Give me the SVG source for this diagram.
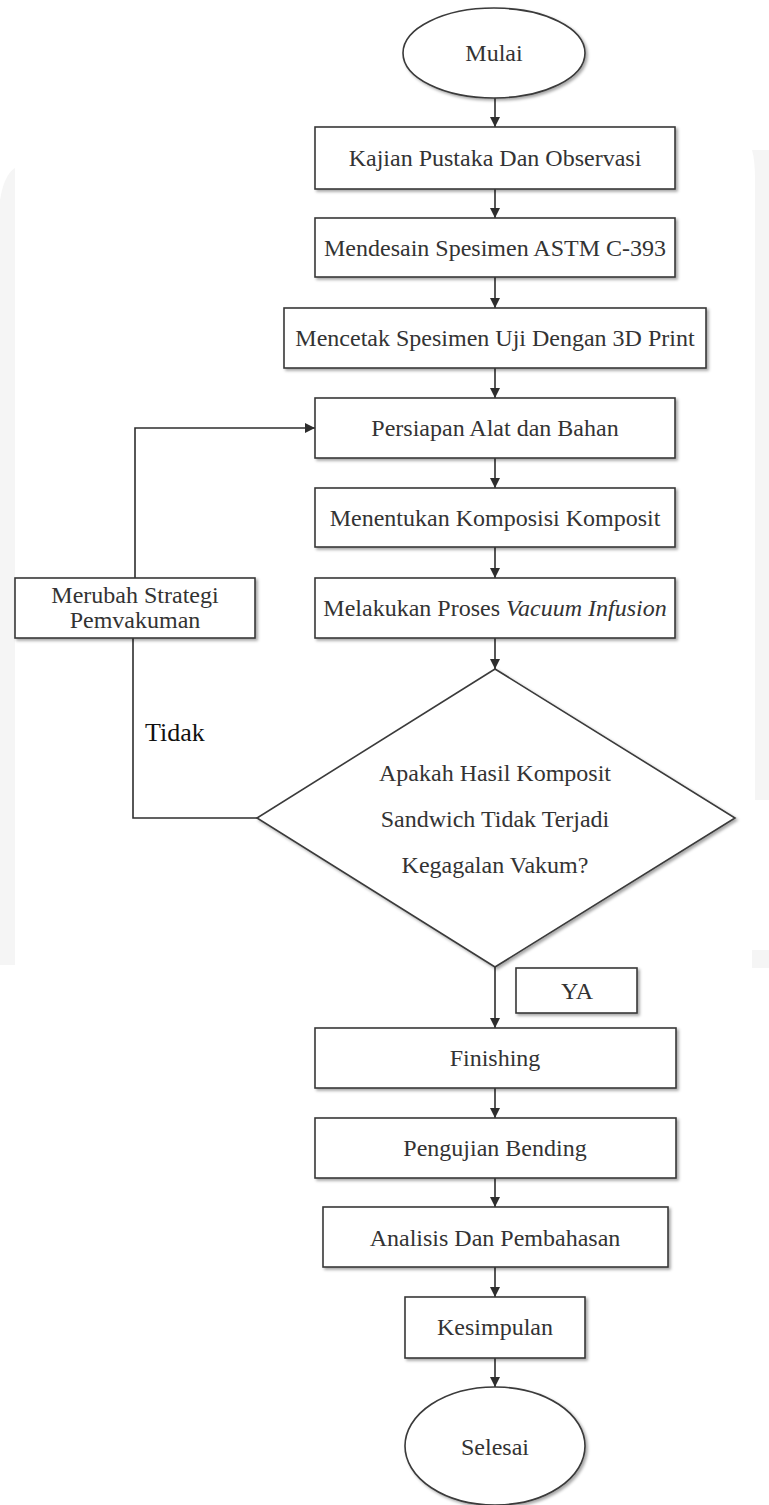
<svg xmlns="http://www.w3.org/2000/svg" width="769" height="1505" viewBox="0 0 769 1505">
<style>
.bg{fill:#f5f5f5;stroke:none}
.n{fill:#ffffff;stroke:#3a3a3a;stroke-width:1.6;filter:url(#sh)}
.t{font-family:'Liberation Serif','Times New Roman',Times,serif;font-size:24px;fill:#333333;text-anchor:middle}
.c{fill:none;stroke:#2e2e2e;stroke-width:1.6}
.a{marker-end:url(#ah)}
</style>
<defs>
<filter id="sh" x="-10%" y="-10%" width="125%" height="130%">
<feDropShadow dx="2" dy="2" stdDeviation="1.5" flood-color="#000000" flood-opacity="0.35"/>
</filter>
<marker id="ah" viewBox="0 0 10 10" refX="10" refY="5" markerWidth="10" markerHeight="10" markerUnits="userSpaceOnUse" orient="auto">
<path d="M0,0 L10,5 L0,10 Z" fill="#2e2e2e"/>
</marker>
</defs>
<rect width="769" height="1505" fill="#ffffff"/>
<g id="watermark">
<path class="bg" d="M0,200 Q4,175 15,168 L15,965 L0,965 Z"/>
<path class="bg" d="M769,150 L752,150 Q755,160 755,180 L755,800 L769,800 Z"/>
<path class="bg" d="M752,950 L769,950 L769,968 L752,968 Z"/>
</g>
<g id="connectors">
<line class="c a" x1="495" y1="98" x2="495" y2="127"/>
<line class="c a" x1="495" y1="189" x2="495" y2="218"/>
<line class="c a" x1="495" y1="277" x2="495" y2="308"/>
<line class="c a" x1="495" y1="368" x2="495" y2="398"/>
<line class="c a" x1="495" y1="458" x2="495" y2="488"/>
<line class="c a" x1="495" y1="547" x2="495" y2="578"/>
<line class="c a" x1="495" y1="638" x2="495" y2="669"/>
<line class="c a" x1="495" y1="967" x2="495" y2="1028"/>
<line class="c a" x1="495" y1="1088" x2="495" y2="1118"/>
<line class="c a" x1="495" y1="1178" x2="495" y2="1207"/>
<line class="c a" x1="495" y1="1267" x2="495" y2="1297"/>
<line class="c a" x1="495" y1="1358" x2="495" y2="1387"/>
<polyline class="c" points="257,818 133,818 133,638"/>
<polyline class="c a" points="135,578 135,428 315,428"/>
<text font-family="Liberation Serif, serif" font-size="26" fill="#111111" x="145" y="741">Tidak</text>
</g>
<g id="mulai">
<ellipse class="n" cx="494" cy="53" rx="91" ry="45"/>
<text class="t" x="494" y="61">Mulai</text>
</g>
<g id="kajian">
<rect class="n" x="315" y="127" width="360" height="62"/>
<text class="t" x="495" y="166">Kajian Pustaka Dan Observasi</text>
</g>
<g id="mendesain">
<rect class="n" x="315" y="218" width="360" height="59"/>
<text class="t" x="495" y="256">Mendesain Spesimen ASTM C-393</text>
</g>
<g id="mencetak">
<rect class="n" x="284" y="308" width="422" height="60"/>
<text class="t" x="495" y="346">Mencetak Spesimen Uji Dengan 3D Print</text>
</g>
<g id="persiapan">
<rect class="n" x="315" y="398" width="360" height="60"/>
<text class="t" x="495" y="436">Persiapan Alat dan Bahan</text>
</g>
<g id="menentukan">
<rect class="n" x="315" y="488" width="360" height="59"/>
<text class="t" x="495" y="526">Menentukan Komposisi Komposit</text>
</g>
<g id="vacuum">
<rect class="n" x="315" y="578" width="360" height="60"/>
<text class="t" x="495" y="616">Melakukan Proses <tspan font-style="italic">Vacuum Infusion</tspan></text>
</g>
<g id="merubah">
<rect class="n" x="15" y="578" width="240" height="60"/>
<text class="t" x="135" y="603">Merubah Strategi</text>
<text class="t" x="135" y="628">Pemvakuman</text>
</g>
<g id="keputusan">
<polygon class="n" points="495,669 735,818 495,967 257,818"/>
<text class="t" x="495" y="781">Apakah Hasil Komposit</text>
<text class="t" x="495" y="827">Sandwich Tidak Terjadi</text>
<text class="t" x="495" y="873">Kegagalan Vakum?</text>
</g>
<g id="ya">
<rect class="n" x="516" y="968" width="121" height="45"/>
<text class="t" x="577" y="999">YA</text>
</g>
<g id="finishing">
<rect class="n" x="315" y="1028" width="361" height="60"/>
<text class="t" x="495" y="1066">Finishing</text>
</g>
<g id="pengujian">
<rect class="n" x="315" y="1118" width="361" height="60"/>
<text class="t" x="495" y="1156">Pengujian Bending</text>
</g>
<g id="analisis">
<rect class="n" x="323" y="1207" width="345" height="60"/>
<text class="t" x="495" y="1246">Analisis Dan Pembahasan</text>
</g>
<g id="kesimpulan">
<rect class="n" x="405" y="1297" width="180" height="61"/>
<text class="t" x="495" y="1335">Kesimpulan</text>
</g>
<g id="selesai">
<ellipse class="n" cx="495" cy="1446" rx="90" ry="59"/>
<text class="t" x="495" y="1455">Selesai</text>
</g>
</svg>
